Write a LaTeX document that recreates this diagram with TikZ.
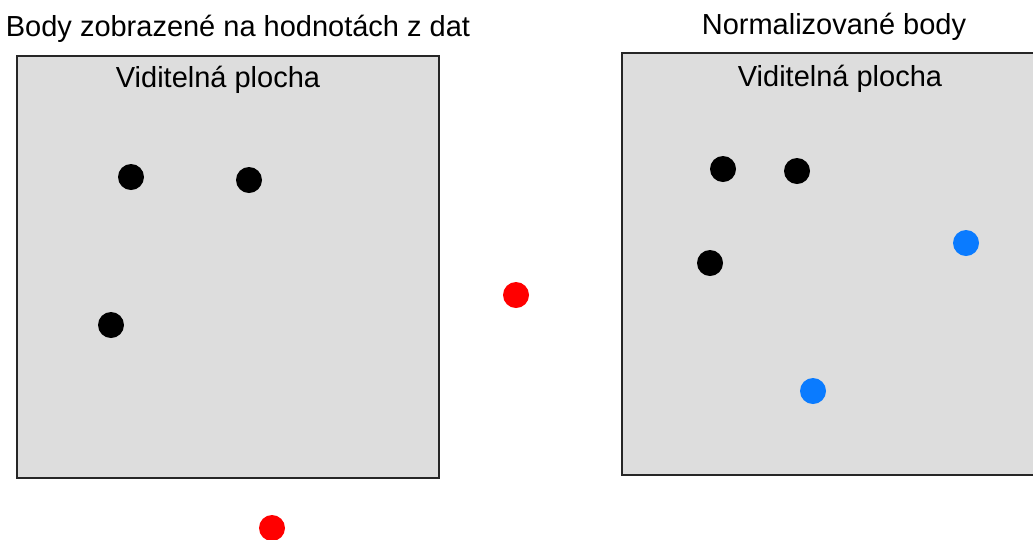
\documentclass[tikz,border=0pt]{standalone}
\usepackage{fontspec}
\setmainfont{Liberation Sans}
\definecolor{plocha}{HTML}{DDDDDD}
\definecolor{okraj}{HTML}{262626}
\definecolor{modra}{HTML}{0A7BFF}

\begin{document}
\begin{tikzpicture}[x=0.02cm,y=-0.02cm,
    bod/.style={circle,fill=#1,inner sep=0pt,minimum size=0.52cm},
    bod/.default=black,
    nadpis/.style={font=\fontsize{16.5}{19}\selectfont,text=black}]
  \useasboundingbox (0,0) rectangle (1033,539);
  %% two visible areas
  \draw[okraj,fill=plocha,line width=1.2pt] (17,56) rectangle (439,478);
  \draw[okraj,fill=plocha,line width=1.2pt] (622,53) rectangle (1044,475);
  \node[nadpis] (titleL) at (238,29) {Body zobrazené na hodnotách z dat};
  \node[nadpis] (titleR) at (834,27) {Normalizované body};
  \node[nadpis] (areaL) at (218,80) {Viditelná plocha};
  \node[nadpis] (areaR) at (840,79) {Viditelná plocha};
  %% points from data
  \node[bod] (a1) at (131,177) {};
  \node[bod] (a2) at (249,180) {};
  \node[bod] (a3) at (111,325) {};
  \node[bod=red] (out1) at (516,295) {};
  \node[bod=red] (out2) at (272,528) {};
  %% normalized points
  \node[bod] (b1) at (723,169) {};
  \node[bod] (b2) at (797,171) {};
  \node[bod] (b3) at (710,263) {};
  \node[bod=modra] (n1) at (966,243) {};
  \node[bod=modra] (n2) at (813,391) {};
\end{tikzpicture}
\end{document}
